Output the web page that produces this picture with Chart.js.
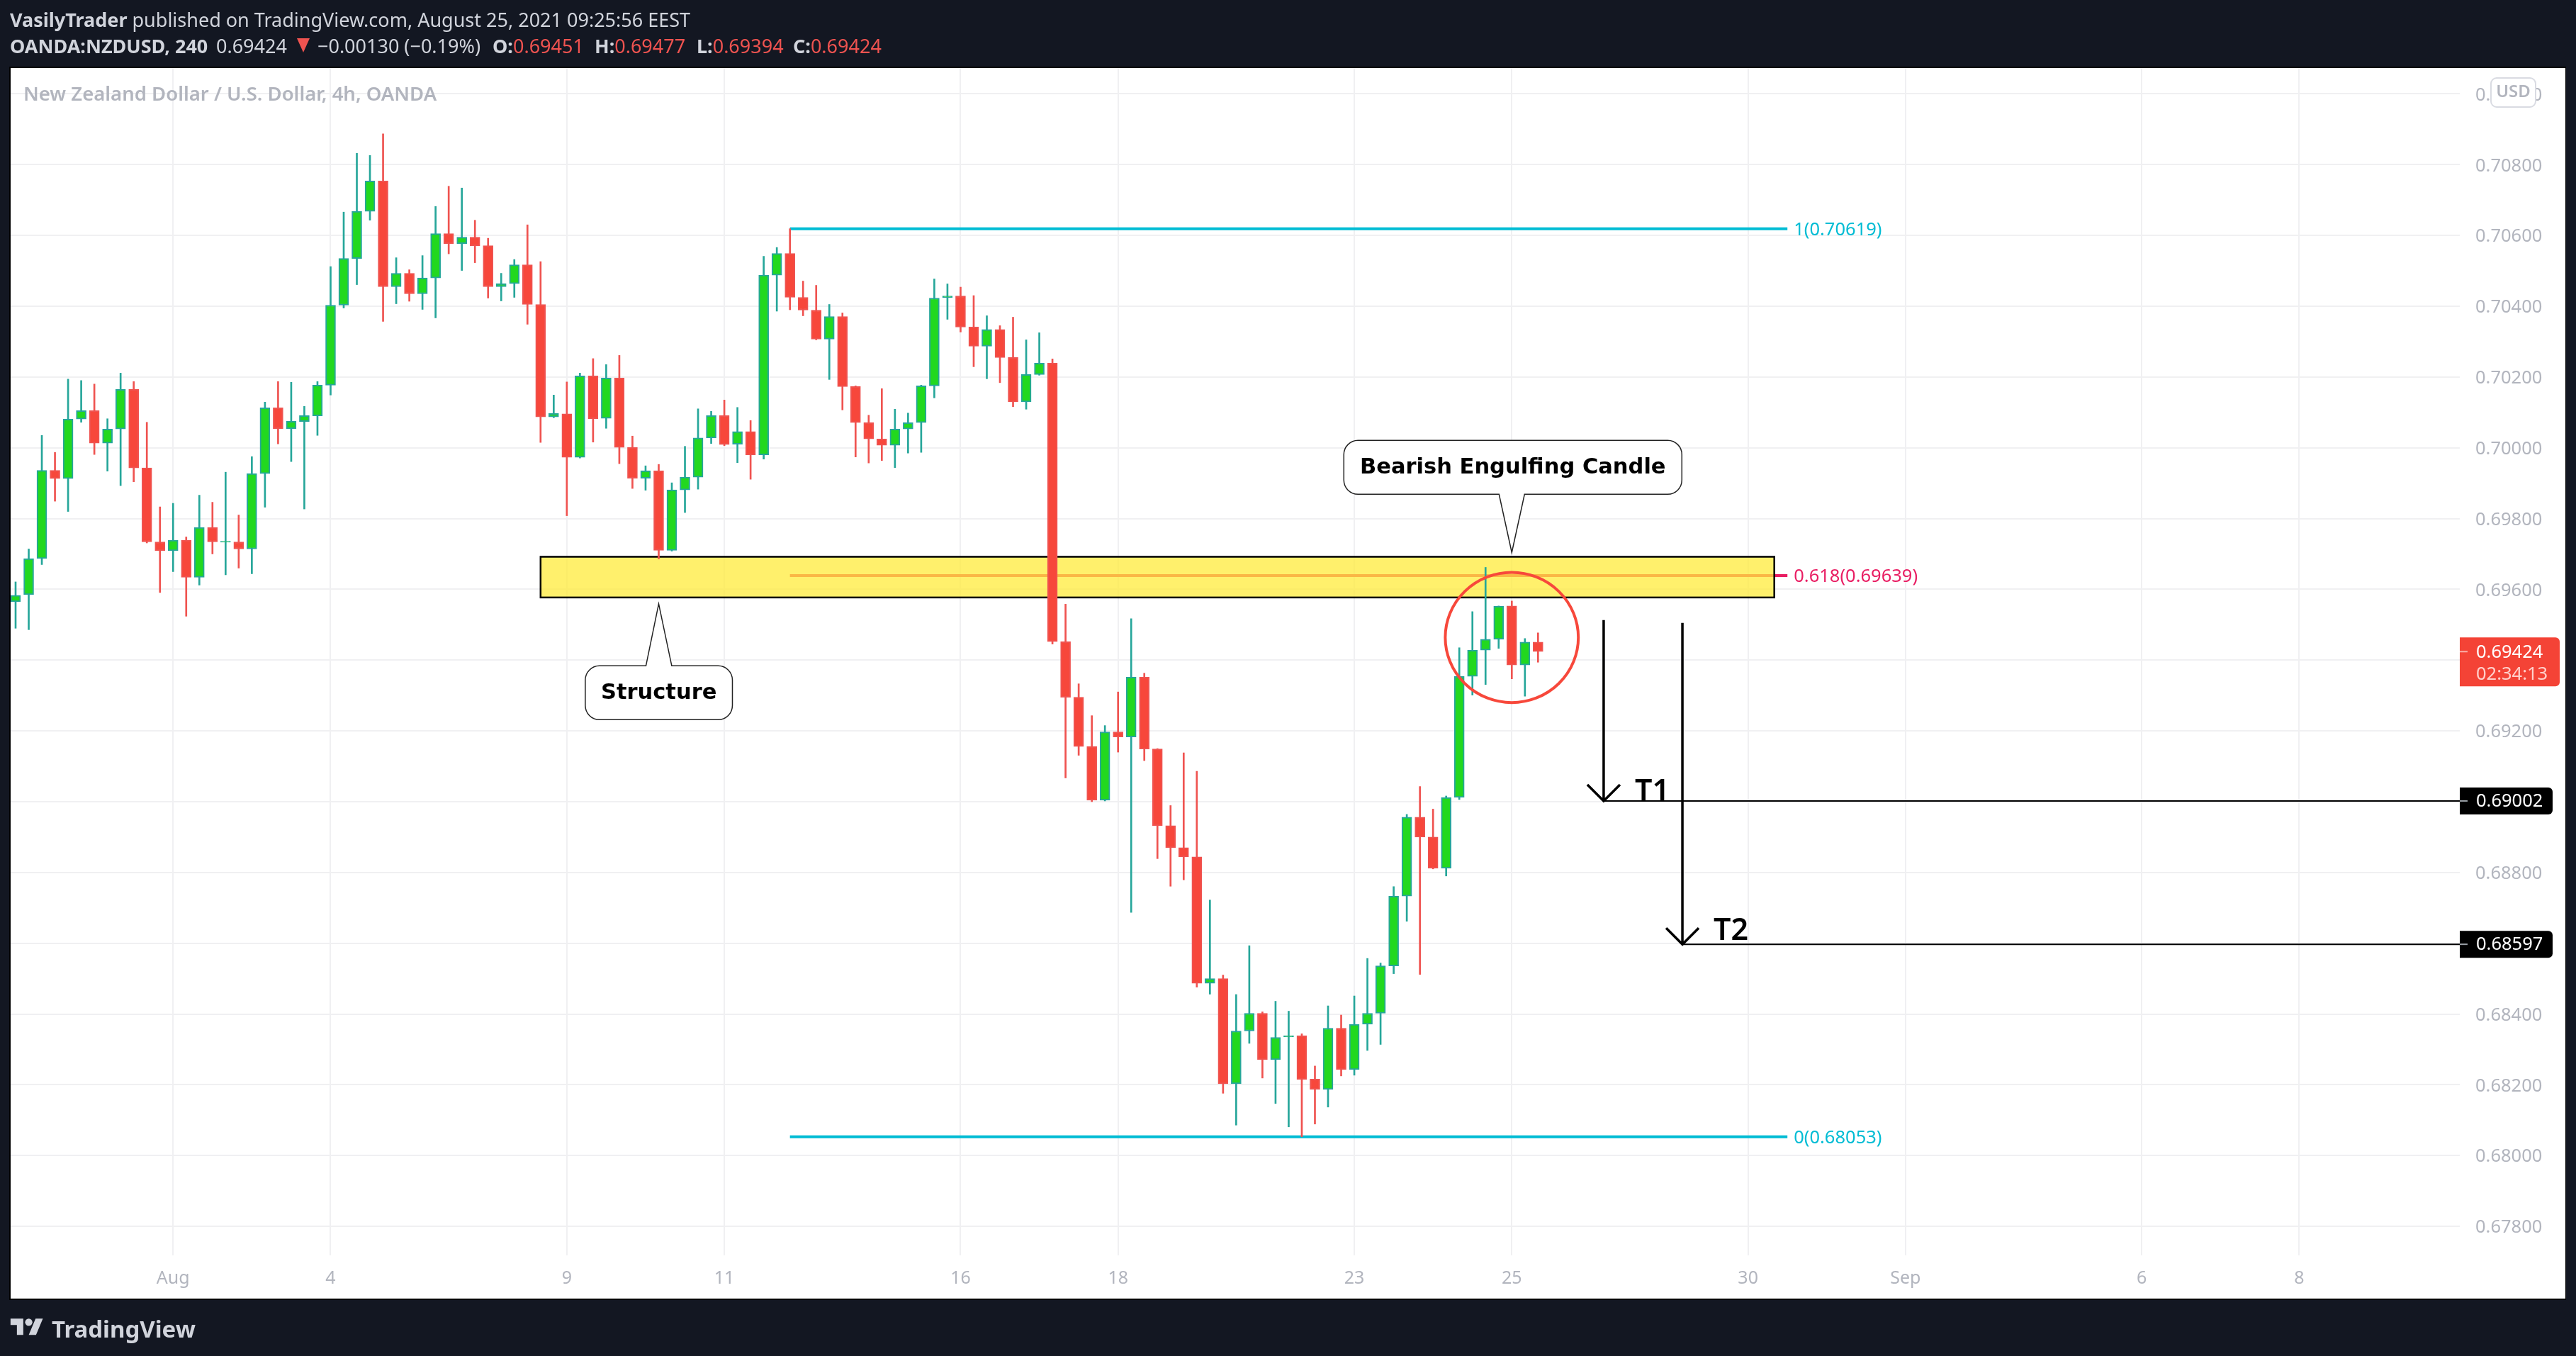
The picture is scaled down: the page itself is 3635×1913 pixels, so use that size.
<!DOCTYPE html>
<html><head><meta charset="utf-8">
<script src="https://cdn.jsdelivr.net/npm/chart.js@4/dist/chart.umd.min.js"></script>
<style>
html,body{margin:0;padding:0;background:#131722;width:3635px;height:1913px;overflow:hidden}
canvas{position:absolute;left:0;top:0}
.t{position:absolute;white-space:nowrap;font-family:"Noto Sans",sans-serif;color:#d1d4dc;line-height:1}
.r{color:#ef5350}.b{font-weight:700}
</style></head><body>
<canvas id="c" width="3635" height="1913"></canvas>
<div class="t" style="left:14px;top:14px;font-size:27px"><span class="b">VasilyTrader</span> published on TradingView.com, August 25, 2021 09:25:56 EEST</div>
<div class="t" style="left:14px;top:51px;font-size:27px"><span class="b">OANDA:NZDUSD, 240</span></div>
<div class="t" style="left:305px;top:51px;font-size:27px">0.69424</div>
<div style="position:absolute;left:419px;top:54px;width:0;height:0;border-left:9px solid transparent;border-right:9px solid transparent;border-top:20px solid #ef5350"></div>
<div class="t" style="left:448px;top:51px;font-size:27px">−0.00130 (−0.19%)</div>
<div class="t" style="left:695px;top:51px;font-size:27px"><span class="b">O:</span><span class="r">0.69451</span></div>
<div class="t" style="left:839px;top:51px;font-size:27px"><span class="b">H:</span><span class="r">0.69477</span></div>
<div class="t" style="left:983px;top:51px;font-size:27px"><span class="b">L:</span><span class="r">0.69394</span></div>
<div class="t" style="left:1119px;top:51px;font-size:27px"><span class="b">C:</span><span class="r">0.69424</span></div>
<svg style="position:absolute;left:14px;top:1855px" width="48" height="36" viewBox="0 0 36 28"><path fill="#d1d4dc" d="M14 22H7V11H0V4h14v18zM28 22h-8l7.5-18h8L28 22z"/><circle fill="#d1d4dc" cx="20" cy="8" r="4"/></svg>
<div class="t" style="left:73px;top:1858px;font-size:33px;font-weight:700">TradingView</div>
<script>
// ---- candles (OANDA:NZDUSD, 4h) ----
const opens=[.69565,.69585,.69687,.69936,.69913,.70081,.70105,.70013,.70053,.70165,
.69943,.69734,.69709,.69739,.69634,.69775,.69733,.69734,.69714,.69927,
.70113,.70054,.70074,.70090,.70177,.70403,.70535,.70668,.70754,.70455,
.70493,.70435,.70480,.70605,.70577,.70595,.70571,.70455,.70464,.70517,
.70405,.70087,.70096,.69973,.70203,.70083,.70197,.70001,.69914,.69935,
.69710,.69881,.69917,.70028,.70091,.70010,.70046,.69980,.70488,.70549,
.70425,.70389,.70307,.70371,.70173,.70071,.70025,.70007,.70053,.70071,
.70175,.70424,.70429,.70341,.70287,.70334,.70255,.70130,.70207,.70239,
.69452,.69295,.69156,.69004,.69197,.69183,.69352,.69149,.68932,.68870,
.68844,.68487,.68500,.68203,.68352,.68402,.68271,.68335,.68339,.68216,
.68187,.68360,.68243,.68371,.68402,.68536,.68733,.68956,.68900,.68812,
.69012,.69354,.69428,.69459,.69553,.69386,.69451];
const highs=[.69621,.69714,.70035,.69987,.70194,.70190,.70180,.70082,.70211,.70187,
.70072,.69833,.69843,.69748,.69866,.69846,.69931,.69810,.69975,.70129,
.70187,.70185,.70117,.70187,.70512,.70666,.70832,.70826,.70887,.70537,
.70503,.70543,.70682,.70739,.70734,.70643,.70592,.70493,.70532,.70630,
.70526,.70149,.70186,.70211,.70252,.70235,.70261,.70033,.69949,.69953,
.69901,.70004,.70110,.70103,.70135,.70114,.70077,.70541,.70566,.70619,
.70471,.70459,.70405,.70381,.70175,.70092,.70167,.70109,.70098,.70177,
.70477,.70463,.70454,.70430,.70373,.70345,.70369,.70305,.70325,.70251,
.69558,.69333,.69243,.69215,.69310,.69517,.69363,.69150,.68989,.69138,
.69086,.68722,.68510,.68455,.68593,.68406,.68436,.68408,.68344,.68253,
.68423,.68397,.68451,.68557,.68544,.68760,.68964,.69043,.68979,.69016,
.69435,.69537,.69662,.69553,.69567,.69461,.69477];
const lows=[.69490,.69486,.69670,.69849,.69820,.70072,.69981,.69934,.69893,.69904,
.69731,.69591,.69650,.69524,.69612,.69700,.69641,.69660,.69644,.69832,
.70011,.69961,.69827,.70035,.70149,.70395,.70461,.70643,.70357,.70407,
.70414,.70391,.70367,.70548,.70501,.70523,.70423,.70415,.70425,.70349,
.70015,.70085,.69808,.69971,.70016,.70055,.69955,.69885,.69880,.69686,
.69708,.69817,.69883,.70012,.70006,.69958,.69911,.69968,.70386,.70390,
.70373,.70305,.70193,.70107,.69974,.69957,.69964,.69944,.69985,.69987,
.70141,.70363,.70327,.70229,.70195,.70184,.70116,.70109,.70205,.69445,
.69067,.69131,.69000,.69002,.69140,.68687,.69116,.68839,.68761,.68779,
.68476,.68456,.68176,.68086,.68317,.68219,.68147,.68081,.68053,.68089,
.68137,.68225,.68227,.68297,.68314,.68514,.68662,.68512,.68810,.68790,
.69006,.69301,.69331,.69433,.69347,.69298,.69394];
const closes=[.69583,.69687,.69936,.69913,.70081,.70105,.70013,.70053,.70165,.69943,
.69734,.69709,.69739,.69634,.69775,.69734,.69736,.69714,.69927,.70113,
.70054,.70075,.70091,.70177,.70403,.70535,.70668,.70754,.70455,.70493,
.70435,.70480,.70605,.70577,.70595,.70571,.70455,.70464,.70517,.70405,
.70087,.70097,.69973,.70203,.70082,.70197,.70001,.69914,.69935,.69710,
.69881,.69917,.70028,.70091,.70009,.70046,.69980,.70488,.70549,.70425,
.70389,.70307,.70371,.70173,.70071,.70025,.70007,.70053,.70071,.70175,
.70423,.70429,.70341,.70287,.70334,.70255,.70130,.70207,.70239,.69452,
.69295,.69156,.69004,.69197,.69183,.69352,.69149,.68932,.68870,.68844,
.68487,.68500,.68203,.68352,.68402,.68271,.68334,.68339,.68215,.68187,
.68360,.68243,.68371,.68402,.68536,.68733,.68956,.68900,.68812,.69012,
.69354,.69428,.69459,.69552,.69386,.69451,.69424];

// ---- axes ----
const priceTicks=[.678,.680,.682,.684,.686,.688,.690,.692,.694,.696,.698,.700,.702,.704,.706,.708,.710];
const dateTickIndex=[12,24,42,54,72,84,102,114,132,144,162,174];
const dateTickLabels=['Aug','4','9','11','16','18','23','25','30','Sep','6','8'];

// ---- drawings, in data units ----
const fibStart=59, fibEnd=135;
const fibLevels=[1,0.618,0];
const fibPrices=[.70619,.69639,.68053];
const fibColors=['#00bcd4','#e91e63','#00bcd4'];
const zone={from:40,to:134,top:.69692,bottom:.69577};
const targetNames=['T1','T2'];
const targetPrices=[.69002,.68597];
const targetIndex=[121,127];
const targetArrowTop=[.69513,.69505];
const lastPrice=.69424;
const circle={index:114,price:.69464,rIndex:5.07,rPrice:.00184};

const GREEN='#22d81f',TEAL='#26a69a',RED='#f7473b',REDW='#ef5350';
const up=i=>closes[i]>=opens[i];
const FONT='"Noto Sans",sans-serif';

function hLine(x0,x1,y,color,w){return{type:'line',data:[{x:x0,y},{x:x1,y}],borderColor:color,borderWidth:w,pointRadius:0,pointHoverRadius:0,order:5,fill:false,tension:0}}

const datasets=[
 {label:'bodies',type:'bar',order:1,grouped:false,barThickness:14,borderWidth:2,borderSkipped:false,
  data:opens.map((o,i)=>({x:i,y:[o,closes[i]]})),
  backgroundColor:c=>up(c.dataIndex)?GREEN:RED,borderColor:c=>up(c.dataIndex)?TEAL:REDW},
 {label:'wicks',type:'bar',order:2,grouped:false,barThickness:2,borderWidth:0,
  data:highs.map((h,i)=>({x:i,y:[lows[i],h]})),
  backgroundColor:c=>up(c.dataIndex)?TEAL:REDW},
];
fibPrices.forEach((p,k)=>datasets.push(hLine(fibStart,fibEnd,p,fibColors[k],4)));
targetPrices.forEach((p,k)=>datasets.push(hLine(targetIndex[k],190,p,'#000',2)));

function roundR(ctx,x,y,w,h,rl,rr){ctx.beginPath();ctx.moveTo(x+rl,y);ctx.lineTo(x+w-rr,y);ctx.arcTo(x+w,y,x+w,y+rr,rr);ctx.lineTo(x+w,y+h-rr);ctx.arcTo(x+w,y+h,x+w-rr,y+h,rr);ctx.lineTo(x+rl,y+h);ctx.arcTo(x,y+h,x,y+h-rl,rl);ctx.lineTo(x,y+rl);ctx.arcTo(x,y,x+rl,y,rl);ctx.closePath()}

function callout(ctx,tx,ty,box,text,font){
 const r=20,{l,r:rt,t,b,b0,b1}=box;const x0=tx+l,x1=tx+rt,y0=ty+t,y1=ty+b;
 ctx.beginPath();
 ctx.moveTo(x0+r,y0);
 if(t>0){ctx.lineTo(tx+b0,y0);ctx.lineTo(tx,ty);ctx.lineTo(tx+b1,y0);}
 ctx.lineTo(x1-r,y0);ctx.arcTo(x1,y0,x1,y0+r,r);ctx.lineTo(x1,y1-r);ctx.arcTo(x1,y1,x1-r,y1,r);
 if(t<0){ctx.lineTo(tx+b1,y1);ctx.lineTo(tx,ty);ctx.lineTo(tx+b0,y1);}
 ctx.lineTo(x0+r,y1);ctx.arcTo(x0,y1,x0,y1-r,r);ctx.lineTo(x0,y0+r);ctx.arcTo(x0,y0,x0+r,y0,r);ctx.closePath();
 ctx.fillStyle='#fff';ctx.fill();ctx.strokeStyle='#222';ctx.lineWidth=1.5;ctx.stroke();
 ctx.fillStyle='#000';ctx.font=font;ctx.textAlign='center';ctx.textBaseline='middle';
 ctx.fillText(text,(x0+x1)/2,(y0+y1)/2+1);
}

const paint={id:'paint',
 beforeDraw(ch){const c=ch.ctx;c.save();c.fillStyle='#000';c.fillRect(13,94,3608,1740);c.fillStyle='#fff';c.fillRect(15,96,3605,1736);c.restore();},
 beforeDatasetDraw(ch,args){
  if(ch.data.datasets[args.index].label!=='wicks')return;
  const X=ch.scales.x,Y=ch.scales.y,c=ch.ctx;
  const x0=X.getPixelForValue(zone.from),x1=X.getPixelForValue(zone.to),y0=Y.getPixelForValue(zone.top),y1=Y.getPixelForValue(zone.bottom);
  c.save();c.fillStyle='rgba(255,235,59,.75)';c.fillRect(x0,y0,x1-x0,y1-y0);c.strokeStyle='#000';c.lineWidth=2.5;c.strokeRect(x0,y0,x1-x0,y1-y0);c.restore();
 },
 afterDatasetsDraw(ch){
  const X=ch.scales.x,Y=ch.scales.y,c=ch.ctx;c.save();
  // circle
  c.beginPath();c.ellipse(X.getPixelForValue(circle.index),Y.getPixelForValue(circle.price),
    X.getPixelForValue(circle.index+circle.rIndex)-X.getPixelForValue(circle.index),
    Y.getPixelForValue(circle.price-circle.rPrice)-Y.getPixelForValue(circle.price),0,0,Math.PI*2);
  c.strokeStyle='#f7483b';c.lineWidth=4;c.stroke();
  // target arrows
  targetPrices.forEach((p,k)=>{
   const x=X.getPixelForValue(targetIndex[k]),y=Y.getPixelForValue(p),yt=Y.getPixelForValue(targetArrowTop[k]);
   c.strokeStyle='#000';c.lineWidth=3.5;c.beginPath();c.moveTo(x,yt);c.lineTo(x,y);c.moveTo(x-23,y-23);c.lineTo(x,y);c.lineTo(x+23,y-23);c.stroke();
   c.fillStyle='#000';c.font='600 43px '+FONT;c.textAlign='left';c.textBaseline='alphabetic';
   c.fillText(targetNames[k],x+44,y-(k?6:0));
  });
  // fib labels
  c.font='25.5px '+FONT;c.textAlign='left';c.textBaseline='middle';
  const xe=X.getPixelForValue(fibEnd);
  fibPrices.forEach((p,k)=>{c.fillStyle=fibColors[k];c.fillText(fibLevels[k]+'('+p.toFixed(5)+')',xe+9,Y.getPixelForValue(p)+2);});
  // callouts
  const calloutFont='bold 30.5px "DejaVu Sans",sans-serif';
  callout(c,X.getPixelForValue(49),Y.getPixelForValue(.69559),{l:-103.6,r:104,t:87.5,b:163.4,b0:-18,b1:18.4},'Structure',calloutFont);
  callout(c,X.getPixelForValue(114),Y.getPixelForValue(.69704),{l:-237,r:240,t:-158.2,b:-82.2,b0:-18,b1:18},'Bearish Engulfing Candle',calloutFont);
  c.restore();
 },
 afterDraw(ch){
  const Y=ch.scales.y,c=ch.ctx,ax=3471;c.save();
  // pane title
  c.fillStyle='#b2b5be';c.font='600 27.5px '+FONT;c.textAlign='left';c.textBaseline='middle';
  c.fillText('New Zealand Dollar / U.S. Dollar, 4h, OANDA',33,134);
  // USD badge
  roundR(c,3515,110,63,41,8,8);c.fillStyle='#fff';c.fill();c.strokeStyle='#d9dbe2';c.lineWidth=2;c.stroke();
  c.fillStyle='#b2b5be';c.font='600 24px '+FONT;c.textAlign='center';c.fillText('USD',3546.5,130);
  // target price labels
  c.textAlign='left';
  targetPrices.forEach(p=>{const y=Y.getPixelForValue(p);
   roundR(c,ax,y-19,131,38,0,6);c.fillStyle='#000';c.fill();
   c.fillStyle='#9aa0a6';c.fillRect(ax,y-1,11,2);
   c.fillStyle='#fff';c.font='25.5px '+FONT;c.fillText(p.toFixed(5),3494,y+1);});
  // last price label
  const y=Y.getPixelForValue(lastPrice);
  roundR(c,ax,y-20,141,69,0,6);c.fillStyle='#f44336';c.fill();
  c.fillStyle='#f9b0a9';c.fillRect(ax,y-1,11,2);
  c.fillStyle='#fff';c.font='25.5px '+FONT;c.fillText(lastPrice.toFixed(5),3494,y+1);
  c.fillStyle='#ffd0cb';c.fillText('02:34:13',3494,y+32);
  c.restore();
 }};

function nudgeLabels(s,dy){
 if(s._nudged)return;s._nudged=true;
 const orig=s.getLabelItems;
 s.getLabelItems=function(ca){const items=orig.call(this,ca);
  items.forEach(it=>{if(!it._n){it._n=true;it.options.translation[1]+=dy;}});return items;};
}

Chart.defaults.animation=false;
new Chart(document.getElementById('c'),{
 type:'bar',
 data:{datasets},
 plugins:[paint],
 options:{responsive:false,animation:false,devicePixelRatio:1,
  layout:{autoPadding:false,padding:{left:15,top:96,right:15,bottom:81}},
  plugins:{legend:{display:false},tooltip:{enabled:false},title:{display:false}},
  scales:{
   x:{type:'linear',offset:false,min:-0.378,max:186.23,
      grid:{offset:false,color:'#f0f0f2',lineWidth:2,drawTicks:false},border:{display:false},
      afterBuildTicks:s=>{s.ticks=dateTickIndex.map(v=>({value:v}))},
      afterFit:s=>{s.height=61},
      ticks:{autoSkip:false,maxRotation:0,minRotation:0,padding:18,color:'#b2b5be',font:{family:'"Noto Sans"',size:25},
        callback:v=>dateTickLabels[dateTickIndex.indexOf(v)]}},
   y:{type:'linear',position:'right',min:.67718,max:.71073,
      grid:{color:'#f0f0f2',lineWidth:2,drawTicks:false},border:{display:false},
      afterBuildTicks:s=>{s.ticks=priceTicks.map(v=>({value:v}))},
      afterFit:s=>{s.width=149},
      afterUpdate:s=>nudgeLabels(s,2),
      ticks:{autoSkip:false,padding:22,color:'#b2b5be',font:{family:'"Noto Sans"',size:25.5},callback:v=>v.toFixed(5)}}
  }}
});
</script>
</body></html>
